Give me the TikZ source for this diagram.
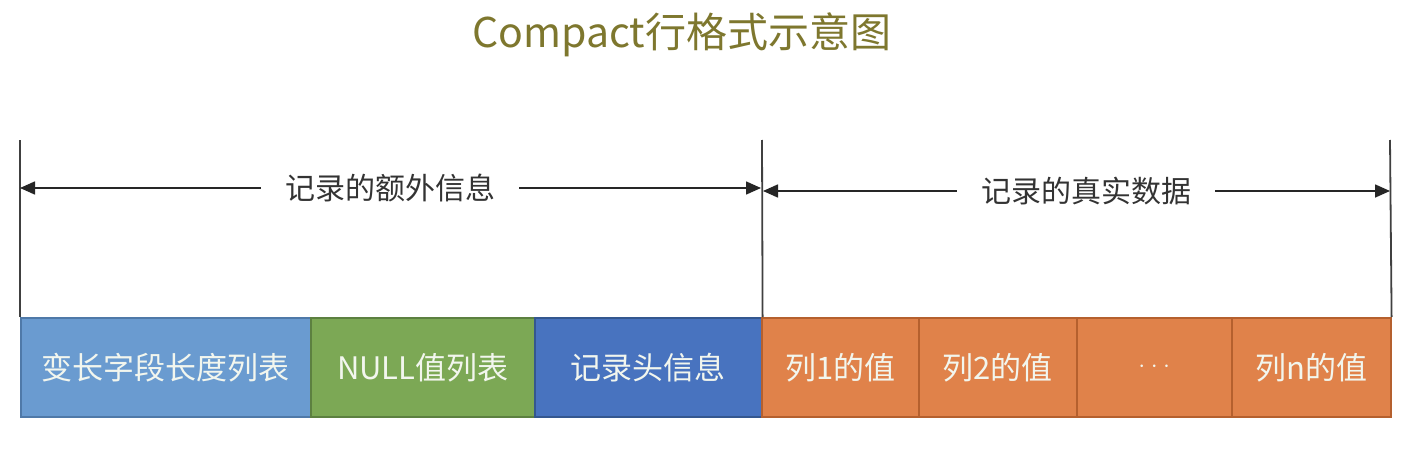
\documentclass[tikz,border=0pt]{standalone}
\usepackage{fontspec}
\setmainfont{Noto Sans CJK SC}
\usetikzlibrary{arrows.meta}
\definecolor{titlecol}{HTML}{7E772E}
\definecolor{lblue}{HTML}{6A9BD0}
\definecolor{lbluedk}{HTML}{4F79A8}
\definecolor{green}{HTML}{7CA855}
\definecolor{greendk}{HTML}{5C8040}
\definecolor{dblue}{HTML}{4873BF}
\definecolor{dbluedk}{HTML}{34578F}
\definecolor{orng}{HTML}{E0824A}
\definecolor{orngdk}{HTML}{B5602E}
\definecolor{boxtxt}{HTML}{F2F6EE}
\tikzset{
  field/.style={draw, line width=1.6pt, minimum height=99pt, inner sep=0pt,
    text=boxtxt, font=\fontsize{31}{33}\selectfont, anchor=north west},
  bound/.style={draw=black!75, line width=1.8pt},
  dimline/.style={draw=black!85, line width=1.6pt, -{Triangle[length=15pt,width=13pt]}},
  lbl/.style={text=black!80, font=\fontsize{30}{32}\selectfont, inner sep=2pt}
}
\begin{document}
\begin{tikzpicture}[x=1pt,y=-1pt]
\useasboundingbox[fill=white] (0,0) rectangle (1414,452);
\node[text=titlecol, font=\fontsize{41}{45}\selectfont] (title) at (682,35) {Compact行格式示意图};

% fields
\node[field, fill=lblue, draw=lbluedk, minimum width=290pt] (f1) at (20,317) {变长字段长度列表};
\node[field, fill=green, draw=greendk, minimum width=224pt] (f2) at (310,317) {NULL值列表};
\node[field, fill=dblue, draw=dbluedk, minimum width=227pt] (f3) at (534,317) {记录头信息};
\node[field, fill=orng, draw=orngdk, minimum width=157pt] (f4) at (761,317) {列1的值};
\node[field, fill=orng, draw=orngdk, minimum width=158pt] (f5) at (918,317) {列2的值};
\node[field, fill=orng, draw=orngdk, minimum width=155pt] (f6) at (1076,317) {$\cdot\cdot\cdot$};
\node[field, fill=orng, draw=orngdk, minimum width=159pt] (f7) at (1231,317) {列n的值};

% boundary lines
\coordinate (b1t) at (20,140);
\coordinate (b2t) at (762,140);
\coordinate (b3t) at (1390,140);
\draw[bound] (b1t) -- (f1.north west);
\draw[bound] (b2t) -- (f3.north east);
\draw[bound] (b3t) -- (f7.north east);

% labels and arrows
\node[lbl] (l1) at (390,188) {记录的额外信息};
\node[lbl] (l2) at (1086,191) {记录的真实数据};
\coordinate (a1l) at (20,188);
\coordinate (a1r) at (761,188);
\coordinate (a2l) at (763,191);
\coordinate (a2r) at (1390,191);
\draw[dimline] (l1.west) ++(-22,0) -- (a1l);
\draw[dimline] (l1.east) ++(22,0) -- (a1r);
\draw[dimline] (l2.west) ++(-22,0) -- (a2l);
\draw[dimline] (l2.east) ++(22,0) -- (a2r);
\end{tikzpicture}
\end{document}
